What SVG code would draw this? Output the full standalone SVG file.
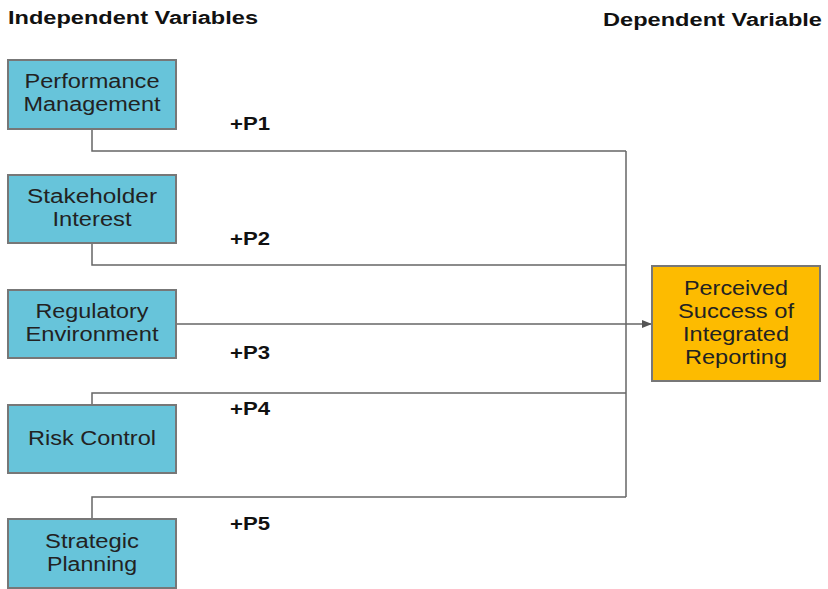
<svg xmlns="http://www.w3.org/2000/svg" width="828" height="589" viewBox="0 0 828 589">
<style>
.iv rect{fill:#67c4da;stroke:#777;stroke-width:2}
.dv rect{fill:#fdbb00;stroke:#777;stroke-width:2}
.t{font-family:"Liberation Sans",Arial,sans-serif;font-size:20px;fill:#222;text-anchor:middle}
.h{font-family:"Liberation Sans",Arial,sans-serif;font-size:18px;font-weight:bold;fill:#111}
.c path{fill:none;stroke:#666;stroke-width:1.5}
</style>
<defs>
<marker id="ar" markerWidth="10" markerHeight="10" refX="9" refY="5" orient="auto" markerUnits="userSpaceOnUse">
<path d="M0,1 L10,5 L0,9 Z" fill="#555"/>
</marker>
</defs>
<rect width="828" height="589" fill="#fff"/>
<text class="h" x="8" y="24" textLength="250" lengthAdjust="spacingAndGlyphs">Independent Variables</text>
<text class="h" x="603" y="26" textLength="219" lengthAdjust="spacingAndGlyphs">Dependent Variable</text>
<g class="c" id="connectors">
<path d="M92,129 V151 H626"/>
<path d="M92,243 V265 H626"/>
<path d="M176,324 H651" marker-end="url(#ar)"/>
<path d="M92,405 V393 H626"/>
<path d="M92,519 V497 H626"/>
<path d="M626,151 V497"/>
</g>
<g id="labels">
<text class="h" x="230" y="130" textLength="40" lengthAdjust="spacingAndGlyphs">+P1</text>
<text class="h" x="230" y="245" textLength="40" lengthAdjust="spacingAndGlyphs">+P2</text>
<text class="h" x="230" y="359" textLength="40" lengthAdjust="spacingAndGlyphs">+P3</text>
<text class="h" x="230" y="415" textLength="40" lengthAdjust="spacingAndGlyphs">+P4</text>
<text class="h" x="230" y="530" textLength="40" lengthAdjust="spacingAndGlyphs">+P5</text>
</g>
<g id="n1" class="iv"><rect x="8" y="60" width="168" height="69"/><text class="t" x="92" y="88" textLength="135" lengthAdjust="spacingAndGlyphs">Performance</text><text class="t" x="92" y="111" textLength="137" lengthAdjust="spacingAndGlyphs">Management</text></g>
<g id="n2" class="iv"><rect x="8" y="175" width="168" height="68"/><text class="t" x="92" y="203" textLength="130" lengthAdjust="spacingAndGlyphs">Stakeholder</text><text class="t" x="92" y="226" textLength="79" lengthAdjust="spacingAndGlyphs">Interest</text></g>
<g id="n3" class="iv"><rect x="8" y="290" width="168" height="68"/><text class="t" x="92" y="318" textLength="113" lengthAdjust="spacingAndGlyphs">Regulatory</text><text class="t" x="92" y="341" textLength="133" lengthAdjust="spacingAndGlyphs">Environment</text></g>
<g id="n4" class="iv"><rect x="8" y="405" width="168" height="68"/><text class="t" x="92" y="445" textLength="128" lengthAdjust="spacingAndGlyphs">Risk Control</text></g>
<g id="n5" class="iv"><rect x="8" y="519" width="168" height="69"/><text class="t" x="92" y="548" textLength="94" lengthAdjust="spacingAndGlyphs">Strategic</text><text class="t" x="92" y="571" textLength="90" lengthAdjust="spacingAndGlyphs">Planning</text></g>
<g id="dv" class="dv"><rect x="652" y="266" width="168" height="115"/><text class="t" x="736" y="295" textLength="104" lengthAdjust="spacingAndGlyphs">Perceived</text><text class="t" x="736" y="318" textLength="116" lengthAdjust="spacingAndGlyphs">Success of</text><text class="t" x="736" y="341" textLength="106" lengthAdjust="spacingAndGlyphs">Integrated</text><text class="t" x="736" y="364" textLength="102" lengthAdjust="spacingAndGlyphs">Reporting</text></g>
</svg>
